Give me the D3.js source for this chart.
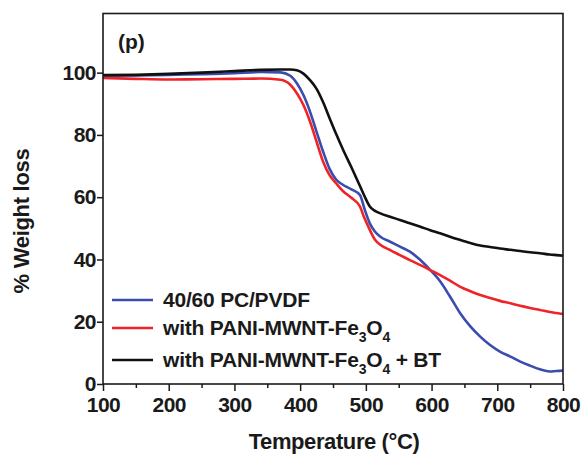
<!DOCTYPE html>
<html>
<head>
<meta charset="utf-8">
<script src="https://cdn.jsdelivr.net/npm/d3@7"></script>
<style>
  html, body { margin: 0; padding: 0; background: #fff; }
  svg { display: block; }
  text { font-family: "Liberation Sans", Arial, Helvetica, sans-serif; font-weight: bold; fill: #1a1a1a; }
</style>
</head>
<body>
<svg id="chart" width="585" height="456"></svg>
<script>
// TGA curves: residual weight (%) versus temperature (°C)
const temperature = [100, 150, 200, 250, 300, 340, 370, 385, 395, 405, 415, 425, 435, 445, 455, 465, 478, 491, 498, 506, 514, 522, 537, 552, 567, 583, 598, 613, 628, 643, 659, 674, 689, 704, 720, 735, 750, 765, 780, 790, 800];

const blendPCPVDF = [99.0, 99.1, 99.3, 99.5, 99.8, 100.2, 100.1, 99.0, 96.6, 92.8, 87.5, 81.0, 74.6, 69.0, 65.6, 64.0, 62.5, 60.7, 56.2, 51.6, 48.9, 47.3, 45.7, 44.1, 42.5, 39.8, 36.6, 33.0, 28.1, 22.9, 18.5, 15.2, 12.5, 10.4, 8.8, 7.2, 5.9, 4.7, 4.0, 4.2, 4.3];

const withPaniFe3O4 = [98.3, 98.0, 97.8, 97.9, 98.0, 98.1, 97.7, 96.1, 93.4, 89.6, 84.3, 77.8, 71.4, 67.0, 64.4, 62.0, 59.8, 57.0, 53.2, 49.5, 46.3, 44.7, 43.0, 41.4, 39.8, 38.2, 36.6, 35.0, 33.2, 31.3, 29.8, 28.6, 27.6, 26.7, 25.9, 25.1, 24.4, 23.8, 23.1, 22.8, 22.5];

const withPaniFe3O4BT = [99.2, 99.3, 99.6, 100.0, 100.5, 100.9, 101.0, 101.0, 100.8, 99.7, 97.6, 94.8, 90.5, 85.3, 80.2, 75.4, 69.6, 63.6, 60.3, 57.0, 55.6, 54.8, 53.7, 52.7, 51.6, 50.5, 49.4, 48.4, 47.3, 46.3, 45.3, 44.5, 44.0, 43.5, 43.1, 42.7, 42.3, 42.0, 41.6, 41.4, 41.2];

const xTicks = [100, 200, 300, 400, 500, 600, 700, 800];
const xMinorTicks = [150, 250, 350, 450, 550, 650, 750];
const yTicks = [0, 20, 40, 60, 80, 100];

const seriesNames = ["40/60 PC/PVDF", "with PANI-MWNT-Fe3O4", "with PANI-MWNT-Fe3O4 + BT"];
const seriesColors = ["#3a4cad", "#ee2428", "#111111"];
const seriesValues = [blendPCPVDF, withPaniFe3O4, withPaniFe3O4BT];

const svg = d3.select("#chart");
const margin = { top: 13.5, right: 22, bottom: 72, left: 103 };
const width = 585 - margin.left - margin.right;
const height = 456 - margin.top - margin.bottom;

const x = d3.scaleLinear().domain([100, 800]).range([0, width]);
const y = d3.scaleLinear().domain([0, 119]).range([height, 0]);

const g = svg.append("g").attr("transform", `translate(${margin.left},${margin.top})`);

// curves
const line = d3.line()
  .x(d => x(d[0]))
  .y(d => y(d[1]))
  .curve(d3.curveMonotoneX);

seriesValues.forEach((vals, i) => {
  g.append("path")
    .datum(temperature.map((t, j) => [t, vals[j]]))
    .attr("fill", "none")
    .attr("stroke", seriesColors[i])
    .attr("stroke-width", 2.6)
    .attr("stroke-linejoin", "round")
    .attr("d", line);
});

// axes
const xAxis = g.append("g")
  .attr("transform", `translate(0,${height})`)
  .call(d3.axisBottom(x).tickValues(xTicks).tickSize(7).tickPadding(6).tickFormat(d3.format("d")));
const xMinor = g.append("g")
  .attr("transform", `translate(0,${height})`)
  .call(d3.axisBottom(x).tickValues(xMinorTicks).tickSize(4).tickFormat(""));
const yAxis = g.append("g")
  .call(d3.axisLeft(y).tickValues(yTicks).tickSize(6).tickPadding(1).tickFormat(d3.format("d")));

[xAxis, xMinor, yAxis].forEach(a => {
  a.select(".domain").remove();
  a.selectAll(".tick line").attr("stroke", "#1a1a1a").attr("stroke-width", 1.5);
  a.selectAll(".tick text")
    .style("font-family", '"Liberation Sans", Arial, sans-serif')
    .style("font-weight", "bold")
    .style("font-size", "21px")
    .style("letter-spacing", "-0.5px")
    .attr("fill", "#1a1a1a");
});

// plot frame
g.append("rect")
  .attr("x", 0).attr("y", 0)
  .attr("width", width).attr("height", height)
  .attr("fill", "none")
  .attr("stroke", "#1a1a1a")
  .attr("stroke-width", 1.6);

// axis titles
svg.append("text")
  .attr("x", margin.left + width / 2 + 1)
  .attr("y", 449)
  .attr("text-anchor", "middle")
  .style("font-size", "22px")
  .style("letter-spacing", "-0.4px")
  .text("Temperature (°C)");

svg.append("text")
  .attr("transform", "translate(29,221) rotate(-90)")
  .attr("text-anchor", "middle")
  .style("font-size", "22px")
  .style("letter-spacing", "-0.3px")
  .text("% Weight loss");

// panel label
g.append("text")
  .attr("x", 15)
  .attr("y", 35.5)
  .style("font-size", "21px")
  .text("(p)");

// legend
const legendRows = [
  { base: "40/60 PC/PVDF", sub: false, tail: "", y: 307 },
  { base: "with PANI-MWNT-Fe", sub: true, tail: "", y: 335 },
  { base: "with PANI-MWNT-Fe", sub: true, tail: " + BT", y: 367 }
];

legendRows.forEach((r, i) => {
  svg.append("line")
    .attr("x1", 112).attr("x2", 153)
    .attr("y1", r.y - 7).attr("y2", r.y - 7)
    .attr("stroke", seriesColors[i])
    .attr("stroke-width", 2.6);
  const t = svg.append("text")
    .attr("x", 163)
    .attr("y", r.y)
    .style("font-size", "21px")
    .style("letter-spacing", "-0.2px");
  t.append("tspan").text(r.base);
  if (r.sub) {
    t.append("tspan").attr("dy", 7).style("font-size", "14px").text("3");
    t.append("tspan").attr("dy", -7).text("O");
    t.append("tspan").attr("dy", 7).style("font-size", "14px").text("4");
    if (r.tail) t.append("tspan").attr("dy", -7).text(r.tail);
  }
});
</script>
</body>
</html>
